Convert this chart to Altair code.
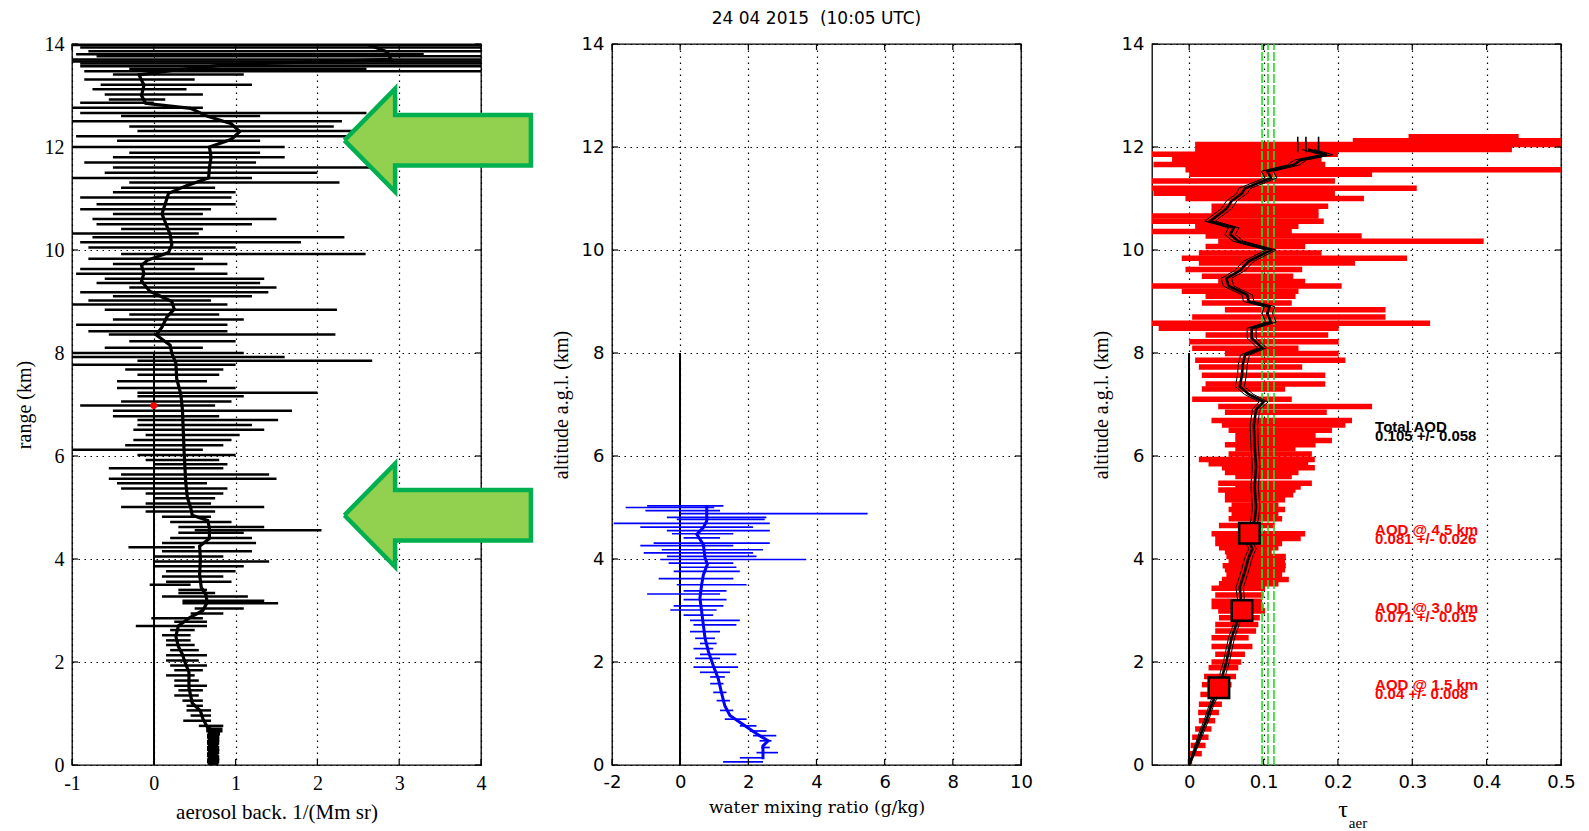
import altair as alt
import pandas as pd

SERIF = "Liberation Serif"
SANS = "DejaVu Sans"
W, H = 409, 721
TICK = 6

# ---------------- left panel: aerosol backscatter ----------------
bsc_alt = [0.0, 0.3, 0.65, 0.75, 0.9, 1.05, 1.2, 1.5, 1.8, 2.0,
           2.15, 2.3, 2.5, 2.7, 2.85, 3.0, 3.15, 3.3, 3.45, 3.7,
           4.0, 4.25, 4.4, 4.6, 4.75, 4.85, 5.0, 5.2, 5.5, 5.8,
           6.1, 6.5, 6.9, 7.2, 7.5, 7.8, 8.0, 8.15, 8.35, 8.5,
           8.7, 8.85, 9.0, 9.2, 9.4, 9.55, 9.7, 9.8, 9.95, 10.1,
           10.3, 10.5, 10.7, 10.9, 11.1, 11.25, 11.4, 11.6, 11.8, 12.0,
           12.15, 12.3, 12.45, 12.6, 12.75, 12.85, 13.0, 13.2, 13.4, 13.5,
           13.6, 13.7, 13.85, 14.0]
bsc_val = [0.73, 0.73, 0.73, 0.65, 0.6, 0.57, 0.47, 0.43, 0.43, 0.38,
           0.35, 0.3, 0.27, 0.3, 0.43, 0.6, 0.65, 0.64, 0.58, 0.56,
           0.57, 0.56, 0.68, 0.68, 0.66, 0.47, 0.45, 0.41, 0.39, 0.38,
           0.37, 0.36, 0.35, 0.33, 0.28, 0.27, 0.22, 0.2, 0.03, 0.1,
           0.16, 0.25, 0.22, -0.05, -0.15, -0.12, -0.15, -0.08, 0.18, 0.22,
           0.2, 0.15, 0.1, 0.14, 0.18, 0.4, 0.67, 0.68, 0.7, 0.68,
           0.95, 1.05, 0.95, 0.65, 0.45, -0.1, -0.15, -0.12, -0.18, 0.3,
           0.9, 2.9, 2.85, 2.6]

# error bar altitude, lower and upper end (1/(Mm sr))
bsc_err_alt = [13.98, 13.93, 13.86, 13.8, 13.76, 13.7, 13.66, 13.62, 13.57, 13.52,
               13.47, 13.41, 13.31, 13.21, 13.12, 13.02, 12.92, 12.86, 12.76, 12.66,
               12.6, 12.5, 12.4, 12.31, 12.21, 12.12, 12.0, 11.89, 11.8, 11.7,
               11.6, 11.5, 11.4, 11.31, 11.21, 11.12, 11.02, 10.89, 10.79, 10.7,
               10.6, 10.5, 10.41, 10.32, 10.25, 10.15, 10.05, 9.92, 9.83, 9.73,
               9.63, 9.54, 9.44, 9.36, 9.27, 9.18, 9.1, 9.02, 8.94, 8.84,
               8.75, 8.65, 8.55, 8.42, 8.36, 8.23, 8.1, 8.0, 7.92, 7.85,
               7.77, 7.68, 7.58, 7.45, 7.32, 7.23, 7.16, 7.06, 6.98, 6.88,
               6.77, 6.7, 6.6, 6.51, 6.41, 6.31, 6.21, 6.12, 6.02, 5.92,
               5.84, 5.76, 5.64, 5.56, 5.47, 5.37, 5.27, 5.18, 5.08, 5.01,
               4.92, 4.82, 4.72, 4.62, 4.56, 4.51, 4.41, 4.31, 4.23, 4.15,
               4.05, 3.95, 3.86, 3.76, 3.66, 3.56, 3.5, 3.4, 3.34, 3.27,
               3.19, 3.14, 3.04, 2.94, 2.85, 2.78, 2.7, 2.62, 2.52, 2.42,
               2.33, 2.23, 2.13, 2.03, 1.93, 1.84, 1.74, 1.64, 1.54, 1.45,
               1.35, 1.25, 1.15, 1.06, 0.96, 0.86, 0.76]
bsc_err_lo = [-1.0, -0.9, -0.8, -0.95, -0.7, -1.0, -1.0, -0.9, -0.9, -0.3,
              -0.85, -0.5, -0.85, -0.65, -0.75, -0.6, -0.55, -0.9, -1.0, -0.9,
              -0.4, -1.0, -0.3, -0.2, -0.95, -0.45, -1.0, -0.3, -0.5, -0.85,
              -0.5, -0.6, -1.0, -0.3, -0.4, -0.5, -0.9, -0.7, -0.9, -0.5,
              -0.75, -0.7, -0.4, -1.0, -0.75, -0.9, -0.8, -0.4, -0.8, -0.5,
              -0.9, -0.95, -0.6, -0.7, -0.3, -0.9, -0.5, -0.8, -1.0, -0.6,
              -0.3, -0.5, -0.95, -0.8, -0.55, -0.3, -0.6, -1.0, -1.0, -0.2,
              -1.0, -0.35, -0.2, -0.45, -0.45, -0.2, -0.2, -0.4, -0.9, -0.5,
              -0.5, -0.2, -0.2, -0.25, -0.1, -0.25, -0.35, -1.0, -0.2, -0.1,
              0.0, -0.55, -0.4, -0.55, -0.45, -0.4, -0.1, 0.0, -0.1, -0.4,
              -0.1, 0.1, 0.2, 0.3, 0.5, 0.3, 0.2, 0.1, -0.31, 0.1,
              0.0, 0.0, 0.0, 0.15, 0.1, 0.15, -0.05, 0.3, 0.3, 0.1,
              0.35, 0.35, 0.5, 0.45, -0.03, 0.25, -0.22, 0.2, 0.1, 0.15,
              0.15, 0.2, 0.15, 0.15, 0.2, 0.25, 0.15, 0.25, 0.25, 0.3,
              0.25, 0.35, 0.4, 0.4, 0.45, 0.36, 0.55]
bsc_err_hi = [4.0, 4.0, 4.0, 3.3, 4.0, 4.0, 4.0, 4.0, 4.0, 2.6,
              4.0, 1.1, 0.5, 1.2, 0.4, 0.6, 0.14, 0.0, 0.6, 2.6,
              1.3, 2.3, 2.2, 2.6, 2.8, 1.3, 1.6, 1.3, 1.6, 1.25,
              2.9, 2.0, 1.2, 2.27, 0.75, 1.0, 0.95, 1.0, 0.7, 0.6,
              1.5, 1.2, 0.6, 0.55, 2.33, 1.8, 1.0, 2.59, 0.6, 0.9,
              0.5, 0.9, 1.35, 1.3, 1.5, 1.4, 1.2, 0.7, 0.9, 2.24,
              0.8, 1.1, 0.9, 0.9, 2.22, 1.0, 0.6, 1.1, 1.6, 2.67,
              1.0, 0.85, 0.8, 0.65, 1.0, 2.0, 1.1, 0.95, 0.75, 1.69,
              0.8, 1.52, 1.2, 1.35, 1.05, 0.95, 0.85, 0.6, 1.0, 0.8,
              0.9, 0.85, 1.41, 1.5, 0.65, 0.9, 0.85, 0.75, 0.7, 1.35,
              0.75, 0.7, 0.95, 1.35, 2.05, 1.1, 1.2, 1.25, 0.5, 1.2,
              0.85, 1.41, 1.1, 1.0, 0.85, 0.95, 0.45, 0.65, 0.75, 1.15,
              1.35, 1.52, 1.1, 0.85, 0.6, 0.65, 0.65, 0.5, 0.45, 0.45,
              0.5, 0.55, 0.65, 0.55, 0.65, 0.6, 0.5, 0.55, 0.65, 0.6,
              0.55, 0.6, 0.6, 0.7, 0.7, 0.7, 0.85]

# dense near-ground block (overlap region)
bsc_low_alt = [0.02, 0.08, 0.14, 0.2, 0.26, 0.32, 0.38, 0.44, 0.5, 0.56, 0.62, 0.68]
bsc_low_lo = [0.66, 0.65, 0.66, 0.65, 0.66, 0.65, 0.66, 0.65, 0.66, 0.65, 0.66, 0.64]
bsc_low_hi = [0.79, 0.8, 0.8, 0.79, 0.8, 0.8, 0.79, 0.8, 0.8, 0.8, 0.81, 0.84]

red_mark_x = [0.0]
red_mark_alt = [6.98]

# highlighted layers (km) pointed at by the arrows
layer_alt = [12.13, 4.85]

# ---------------- middle panel: water vapour mixing ratio ----------------
wv_alt = [0.11, 0.18, 0.37, 0.47, 0.57, 0.7, 0.83, 0.96, 1.15, 1.41,
          1.67, 1.93, 2.2, 2.46, 2.72, 2.98, 3.24, 3.5, 3.69, 3.9,
          4.02, 4.28, 4.48, 4.61, 4.74, 4.93, 5.03]
wv_val = [2.43, 2.43, 2.43, 2.58, 2.33, 2.04, 1.75, 1.46, 1.31, 1.21,
          1.12, 0.97, 0.83, 0.73, 0.68, 0.63, 0.58, 0.63, 0.68, 0.8,
          0.73, 0.68, 0.49, 0.68, 0.78, 0.78, 0.78]

wv_err_alt = [5.03, 5.0, 4.94, 4.88, 4.81, 4.77, 4.69, 4.62, 4.55, 4.49,
              4.41, 4.31, 4.26, 4.18, 4.12, 4.05, 3.99, 3.92, 3.84, 3.76,
              3.62, 3.5, 3.38, 3.32, 3.21, 3.09, 3.01, 2.91, 2.81, 2.72,
              2.59, 2.46, 2.36, 2.26, 2.15, 2.07, 1.9, 1.8, 1.71, 1.58,
              1.41, 1.25, 1.06, 0.89, 0.76, 0.66, 0.57, 0.47, 0.34, 0.24,
              0.14, 0.06]
wv_err_lo = [-0.97, -1.6, -1.02, 0.0, -0.39, -0.1, -1.95, -1.17, -0.39, -0.24,
             0.1, -0.78, -1.17, -0.54, -1.07, -0.39, -0.58, -0.34, 0.0, -0.19,
             -0.63, -0.1, 0.1, -0.97, 0.1, -0.19, -0.29, 0.1, 0.29, 0.39,
             0.29, 0.44, 0.58, 0.39, 0.58, 0.44, 0.39, 0.58, 0.88, 0.88,
             0.97, 1.07, 1.17, 1.31, 1.75, 2.04, 2.14, 2.33, 2.38, 2.24,
             1.75, 1.26]
wv_err_hi = [1.27, 1.0, 1.17, 5.5, 2.53, 2.48, 2.63, 2.14, 2.63, 1.56,
             1.17, 2.63, 1.56, 2.43, 2.14, 2.24, 3.7, 1.56, 1.65, 1.75,
             1.56, 1.95, 1.36, 1.17, 1.36, 1.27, 1.07, 0.97, 1.75, 1.65,
             1.17, 1.02, 1.07, 0.97, 1.65, 1.17, 1.7, 1.46, 1.31, 1.27,
             1.36, 1.46, 1.56, 1.95, 2.24, 2.53, 2.82, 2.68, 2.63, 2.87,
             2.43, 2.43]

# ---------------- right panel: cumulative aerosol optical depth ----------------
tau_alt = [0.0, 0.3, 0.65, 0.9, 1.17, 1.5, 1.8, 2.0, 2.47, 2.8,
           3.0, 3.45, 3.77, 4.03, 4.2, 4.35, 4.55, 4.75, 5.0, 5.4,
           5.8, 6.2, 6.6, 6.9, 7.05, 7.2, 7.35, 7.57, 7.77, 7.96,
           8.1, 8.29, 8.48, 8.6, 8.77, 8.9, 9.0, 9.13, 9.3, 9.45,
           9.6, 9.78, 10.0, 10.17, 10.3, 10.43, 10.56, 10.8, 10.95, 11.1,
           11.2, 11.4, 11.53, 11.65, 11.75, 11.85, 11.95]
tau_val = [0.0, 0.008, 0.017, 0.024, 0.03, 0.04, 0.046, 0.05, 0.057, 0.065,
           0.071, 0.068, 0.075, 0.08, 0.085, 0.08, 0.081, 0.088, 0.09, 0.088,
           0.09, 0.088, 0.087, 0.09, 0.1, 0.08, 0.068, 0.071, 0.072, 0.075,
           0.098, 0.084, 0.084, 0.11, 0.105, 0.108, 0.08, 0.078, 0.053, 0.05,
           0.068, 0.08, 0.11, 0.066, 0.055, 0.06, 0.028, 0.05, 0.057, 0.071,
           0.075, 0.11, 0.105, 0.14, 0.15, 0.185, 0.16]
tau_unc = [0.001, 0.002, 0.003, 0.003, 0.003, 0.004, 0.004, 0.004, 0.004, 0.004,
           0.004, 0.005, 0.005, 0.005, 0.005, 0.005, 0.005, 0.005, 0.005, 0.005,
           0.005, 0.005, 0.005, 0.005, 0.006, 0.006, 0.006, 0.006, 0.006, 0.006,
           0.006, 0.006, 0.006, 0.007, 0.007, 0.007, 0.007, 0.007, 0.007, 0.007,
           0.007, 0.007, 0.007, 0.007, 0.007, 0.007, 0.007, 0.007, 0.007, 0.007,
           0.008, 0.008, 0.008, 0.008, 0.008, 0.008, 0.008]

ext_alt = [12.2, 12.12, 12.05, 11.95, 11.86, 11.76, 11.66, 11.56, 11.47, 11.34,
           11.2, 11.1, 11.0, 10.85, 10.75, 10.66, 10.56, 10.46, 10.36, 10.27,
           10.17, 10.07, 9.94, 9.84, 9.75, 9.62, 9.49, 9.39, 9.3, 9.2,
           9.1, 8.97, 8.84, 8.7, 8.58, 8.48, 8.35, 8.22, 8.09, 7.99,
           7.86, 7.73, 7.57, 7.4, 7.3, 7.1, 6.96, 6.85, 6.69, 6.6,
           6.5, 6.4, 6.3, 6.22, 6.14, 6.04, 5.93, 5.85, 5.77, 5.68,
           5.6, 5.47, 5.4, 5.34, 5.25, 5.15, 5.05, 4.96, 4.87, 4.78,
           4.65, 4.49, 4.4, 4.3, 4.22, 4.14, 4.05, 3.95, 3.87, 3.79,
           3.7, 3.6, 3.52, 3.43, 3.3, 3.18, 3.08, 2.99, 2.86, 2.73,
           2.6, 2.47, 2.3, 2.15, 2.0, 1.89, 1.72, 1.56, 1.37, 1.18,
           1.02, 0.86, 0.7, 0.54, 0.38, 0.22, 0.06]
ext_lo = [0.295, 0.22, 0.008, 0.008, -0.05, -0.023, -0.048, -0.005, 0.0, -0.05,
          -0.05, -0.048, -0.005, 0.03, 0.03, -0.05, -0.05, 0.008, -0.05, 0.022,
          0.039, 0.022, 0.013, -0.01, 0.013, -0.005, 0.017, 0.039, -0.05, -0.01,
          0.022, 0.017, 0.048, 0.004, -0.05, -0.041, 0.022, 0.0, 0.004, 0.048,
          0.008, 0.013, 0.017, 0.022, 0.017, 0.004, 0.039, 0.048, 0.03, 0.044,
          0.053, 0.062, 0.062, 0.048, 0.062, 0.053, 0.013, 0.026, 0.044, 0.048,
          0.062, 0.039, 0.062, 0.039, 0.048, 0.048, 0.057, 0.053, 0.057, 0.053,
          0.04, 0.03, 0.035, 0.035, 0.04, 0.048, 0.05, 0.053, 0.045, 0.048,
          0.05, 0.044, 0.04, 0.03, 0.035, 0.03, 0.03, 0.039, 0.04, 0.035,
          0.035, 0.03, 0.03, 0.035, 0.03, 0.026, 0.02, 0.017, 0.015, 0.013,
          0.012, 0.013, 0.008, 0.004, 0.002, 0.0, -0.002]
ext_hi = [0.443, 0.55, 0.55, 0.434, 0.2, 0.178, 0.183, 0.55, 0.246, 0.196,
          0.306, 0.196, 0.235, 0.187, 0.174, 0.174, 0.181, 0.147, 0.138, 0.232,
          0.396, 0.156, 0.178, 0.293, 0.223, 0.152, 0.14, 0.156, 0.205, 0.147,
          0.143, 0.138, 0.264, 0.264, 0.324, 0.201, 0.187, 0.201, 0.147, 0.201,
          0.21, 0.152, 0.183, 0.183, 0.129, 0.138, 0.246, 0.185, 0.219, 0.21,
          0.192, 0.17, 0.192, 0.17, 0.143, 0.165, 0.169, 0.16, 0.169, 0.147,
          0.138, 0.165, 0.15, 0.143, 0.14, 0.129, 0.12, 0.129, 0.12, 0.125,
          0.115, 0.156, 0.15, 0.125, 0.12, 0.111, 0.13, 0.129, 0.13, 0.129,
          0.125, 0.134, 0.12, 0.102, 0.1, 0.098, 0.1, 0.102, 0.095, 0.093,
          0.09, 0.08, 0.085, 0.075, 0.07, 0.066, 0.063, 0.057, 0.05, 0.044,
          0.04, 0.035, 0.03, 0.026, 0.022, 0.017, 0.004]

aod_alt = [1.5, 3.0, 4.5]
aod_val = [0.04, 0.071, 0.081]
aod_err = ["0.008", "0.015", "0.026"]
aod_total = "0.105"
aod_total_err = "0.058"
total_aod_lines = [0.098, 0.106, 0.114]
top_seg_x = [0.146, 0.157, 0.174]

# tick values
alt_ticks = [0, 2, 4, 6, 8, 10, 12, 14]
bsc_ticks = [-1, 0, 1, 2, 3, 4]
wv_ticks = [-2, 0, 2, 4, 6, 8, 10]
tau_ticks = [0, 0.1, 0.2, 0.3, 0.4, 0.5]

# ---------------- helpers ----------------
GRID = dict(grid=True, gridColor="black", gridDash=[1.5, 4.5], gridWidth=1.2,
            gridOpacity=1, domain=False, ticks=False, labelColor="black",
            titleColor="black", titleFontWeight="normal")


def x_axis(values, font, size, title):
    return alt.Axis(values=values, labelExpr="'' + datum.value", labelFont=font,
                    labelFontSize=size, labelPadding=8, title=title,
                    titleFont=font if font == SERIF else "DejaVu Serif",
                    titleFontSize=21 if font == SERIF else 17, titlePadding=8,
                    labelFlush=False, **GRID)


def y_axis(font, size, title):
    return alt.Axis(values=alt_ticks, labelExpr="'' + datum.value",
                    labelFont=font, labelFontSize=size, labelPadding=8,
                    title=title, titleFont=SERIF, titleFontSize=20,
                    titlePadding=10, labelFlush=False, **GRID)


def enc(xdom, xaxis, yaxis):
    sx = alt.Scale(domain=xdom, nice=False, zero=False)
    sy = alt.Scale(domain=[0, 14], nice=False, zero=False)

    def X(field):
        return alt.X(field, type="quantitative", scale=sx, axis=xaxis)

    def Y(field):
        return alt.Y(field, type="quantitative", scale=sy, axis=yaxis)
    return X, Y


def inner_ticks(X, Y, xvals):
    """Short tick marks drawn inside the frame on all four sides."""
    ty = pd.DataFrame({"alt": alt_ticks})
    tx = pd.DataFrame({"x": xvals})
    return [
        alt.Chart(ty).mark_rule(color="black", strokeWidth=1.2).encode(
            x=alt.value(0), x2=alt.value(TICK), y=Y("alt")),
        alt.Chart(ty).mark_rule(color="black", strokeWidth=1.2).encode(
            x=alt.value(W - TICK), x2=alt.value(W), y=Y("alt")),
        alt.Chart(tx).mark_rule(color="black", strokeWidth=1.2).encode(
            x=X("x"), y=alt.value(H - TICK), y2=alt.value(H)),
        alt.Chart(tx).mark_rule(color="black", strokeWidth=1.2).encode(
            x=X("x"), y=alt.value(0), y2=alt.value(TICK)),
    ]


# ---------------- left panel ----------------
X1, Y1 = enc([-1, 4], x_axis(bsc_ticks, SERIF, 20, "aerosol back. 1/(Mm sr)"),
             y_axis(SERIF, 20, "range (km)"))

bsc_err = pd.DataFrame({"alt": bsc_err_alt, "x": bsc_err_lo, "x2": bsc_err_hi})
bsc_low = pd.DataFrame({"alt": bsc_low_alt, "x": bsc_low_lo, "x2": bsc_low_hi})
bsc = pd.DataFrame({"alt": bsc_alt, "x": bsc_val})
red_mark = pd.DataFrame({"alt": red_mark_alt, "x": red_mark_x})

tip_x, head_x, tail_x, head_h, shaft_h = 2.33, 2.95, 4.61, 1.0, 0.49
arrow_rows = []
for i, a in enumerate(layer_alt):
    verts = [(tip_x, a), (head_x, a + head_h), (head_x, a + shaft_h), (tail_x, a + shaft_h),
             (tail_x, a - shaft_h), (head_x, a - shaft_h), (head_x, a - head_h), (tip_x, a)]
    for k, (vx, vy) in enumerate(verts):
        arrow_rows.append({"arrow": i, "k": k, "x": vx, "alt": vy})
arrows = pd.DataFrame(arrow_rows)

p1 = alt.layer(
    alt.Chart(bsc_err).mark_rule(color="black", strokeWidth=2.5, clip=True).encode(
        x=X1("x"), x2="x2", y=Y1("alt")),
    alt.Chart(bsc_low).mark_rule(color="black", strokeWidth=5, clip=True).encode(
        x=X1("x"), x2="x2", y=Y1("alt")),
    alt.Chart(bsc).mark_line(color="black", strokeWidth=3.2, clip=True).encode(
        x=X1("x"), y=Y1("alt"), order="alt:Q"),
    alt.Chart(bsc).mark_rule(color="black", strokeWidth=1.2).encode(
        x=alt.datum(0), y=alt.datum(0), y2=alt.datum(8)),
    alt.Chart(red_mark).mark_point(shape="circle", filled=True, color="red", size=45, opacity=1).encode(
        x=X1("x"), y=Y1("alt")),
    *inner_ticks(X1, Y1, bsc_ticks),
    alt.Chart(arrows).mark_line(fill="#92D050", stroke="#00B050", strokeWidth=4.5,
                                strokeJoin="miter", clip=False).encode(
        x=X1("x"), y=Y1("alt"), detail="arrow:N", order="k:Q"),
).properties(width=W, height=H)

# ---------------- middle panel ----------------
X2, Y2 = enc([-2, 10], x_axis(wv_ticks, SANS, 18, "water mixing ratio (g/kg)"),
             y_axis(SANS, 18, "altitude a.g.l. (km)"))
wv_err = pd.DataFrame({"alt": wv_err_alt, "x": wv_err_lo, "x2": wv_err_hi})
wv = pd.DataFrame({"alt": wv_alt, "x": wv_val})

p2 = alt.layer(
    alt.Chart(wv).mark_rule(color="black", strokeWidth=1.2).encode(
        x=alt.datum(0), y=alt.datum(0), y2=alt.datum(8)),
    alt.Chart(wv_err).mark_rule(color="#0000ff", strokeWidth=1.7).encode(
        x=X2("x"), x2="x2", y=Y2("alt")),
    alt.Chart(wv).mark_line(color="#0000ff", strokeWidth=3).encode(
        x=X2("x"), y=Y2("alt"), order="alt:Q"),
    *inner_ticks(X2, Y2, wv_ticks),
).properties(width=W, height=H,
             title=alt.TitleParams("24 04 2015\u00a0 (10:05 UTC)", font=SANS, fontSize=17,
                                   fontWeight="normal", color="black", offset=7))

# ---------------- right panel ----------------
X3, Y3 = enc([-0.05, 0.5], x_axis(tau_ticks, SANS, 18, None),
             y_axis(SANS, 18, "altitude a.g.l. (km)"))
ext = pd.DataFrame({"alt": ext_alt, "x": ext_lo, "x2": ext_hi})
tau = pd.DataFrame({"alt": tau_alt, "x": tau_val, "unc": tau_unc})
tau["lo"] = tau["x"] - tau["unc"]
tau["hi"] = tau["x"] + tau["unc"]
aod = pd.DataFrame({"alt": aod_alt, "x": aod_val})
labels = pd.DataFrame({
    "alt": [6.5] + aod_alt,
    "l1": ["Total AOD"] + [f"AOD @ {a:.1f} km" for a in aod_alt],
    "l2": [f"{aod_total} +/- {aod_total_err}"] + [f"{v:g} +/- {e}" for v, e in zip(aod_val, aod_err)],
    "c": ["black", "red", "red", "red"],
})
green = pd.DataFrame({"x": total_aod_lines})
segs = pd.DataFrame({"x": top_seg_x})
sub = pd.DataFrame({"t": ["τ"], "s": ["aer"]})

p3 = alt.layer(
    alt.Chart(ext).mark_rule(color="#ff0000", strokeWidth=5.5, clip=True).encode(
        x=X3("x"), x2="x2", y=Y3("alt")),
    alt.Chart(tau).mark_rule(color="black", strokeWidth=1.2).encode(
        x=alt.datum(0), y=alt.datum(0), y2=alt.datum(8)),
    alt.Chart(green).mark_rule(color="#22dd22", strokeWidth=1.6, strokeDash=[9, 2]).encode(
        x=X3("x"), y=alt.datum(0), y2=alt.datum(14)),
    alt.Chart(segs).mark_rule(color="black", strokeWidth=1.6).encode(
        x=X3("x"), y=alt.datum(11.9), y2=alt.datum(12.2)),
    alt.Chart(tau).mark_line(color="black", strokeWidth=1).encode(
        x=X3("lo"), y=Y3("alt"), order="alt:Q"),
    alt.Chart(tau).mark_line(color="black", strokeWidth=1).encode(
        x=X3("hi"), y=Y3("alt"), order="alt:Q"),
    alt.Chart(tau).mark_line(color="black", strokeWidth=2.6).encode(
        x=X3("x"), y=Y3("alt"), order="alt:Q"),
    alt.Chart(aod).mark_square(size=420, filled=True, fill="#ff0000", stroke="black",
                               strokeWidth=2.5, opacity=1).encode(
        x=X3("x"), y=Y3("alt")),
    *inner_ticks(X3, Y3, tau_ticks),
    alt.Chart(labels).mark_text(align="left", baseline="middle", font="Liberation Sans",
                                fontWeight="bold", fontSize=15, dy=-3).encode(
        x=alt.datum(0.25), y=Y3("alt"), text="l1:N", color=alt.Color("c:N", scale=None)),
    alt.Chart(labels).mark_text(align="left", baseline="middle", font="Liberation Sans",
                                fontWeight="bold", fontSize=15, dy=6).encode(
        x=alt.datum(0.25), y=Y3("alt"), text="l2:N", color=alt.Color("c:N", scale=None)),
    alt.Chart(sub).mark_text(font=SERIF, fontSize=24, color="black", baseline="middle").encode(
        x=alt.value(191), y=alt.value(H + 45), text="t:N"),
    alt.Chart(sub).mark_text(font=SERIF, fontSize=15, color="black", baseline="middle").encode(
        x=alt.value(206), y=alt.value(H + 58), text="s:N"),
).properties(width=W, height=H)

chart = alt.hconcat(p1, p2, p3, spacing=131, bounds="flush").properties(
    padding={"left": 13, "top": 9, "right": 10, "bottom": 2},
    background="white",
).configure_view(stroke="black", strokeWidth=1.3)

chart.save("out.html", embed_options={"renderer": "svg", "actions": False})
